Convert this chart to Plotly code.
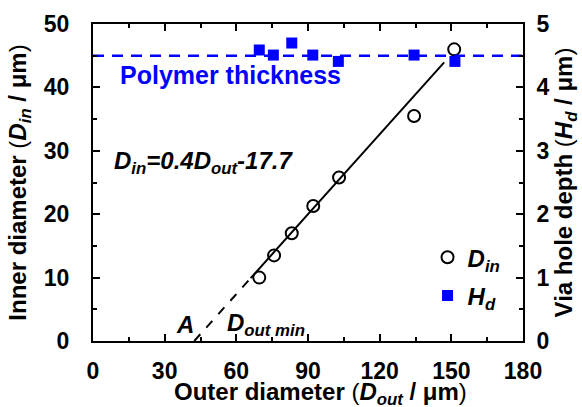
import plotly.graph_objects as go

# Data
d_out = [69.6, 75.8, 83.2, 92.2, 103.0, 134.4, 151.2]
d_in = [10.0, 13.5, 17.0, 21.3, 25.8, 35.5, 46.0]
hd_out = [69.6, 75.5, 83.2, 92.0, 102.7, 134.4, 151.5]
h_d = [4.59, 4.51, 4.70, 4.51, 4.41, 4.51, 4.41]
polymer_thickness = 4.5  # um (right axis)
fit_slope, fit_intercept = 0.42, -17.8
fit_solid_x = [66.0, 147.0]
fit_dash_x = [42.4, 66.0]

FONT = "Liberation Sans"
TXT = 24
TICK = 23

fig = go.Figure()

fig.add_trace(go.Scatter(x=[0, 180], y=[polymer_thickness] * 2, yaxis="y2", mode="lines",
                         line=dict(color="#0000FF", width=2.5, dash="11px,8px"),
                         showlegend=False, hoverinfo="skip"))
fig.add_trace(go.Scatter(x=fit_dash_x, y=[fit_slope * v + fit_intercept for v in fit_dash_x],
                         mode="lines", line=dict(color="black", width=2, dash="9px,9px"),
                         showlegend=False, hoverinfo="skip"))
fig.add_trace(go.Scatter(x=fit_solid_x, y=[fit_slope * v + fit_intercept for v in fit_solid_x],
                         mode="lines", line=dict(color="black", width=2),
                         showlegend=False, hoverinfo="skip"))
fig.add_trace(go.Scatter(x=d_out, y=d_in, mode="markers",
                         name="<b><i>D</i></b><sub><b><i>in</i></b></sub>",
                         marker=dict(symbol="circle-open", size=12, color="black",
                                     line=dict(width=2, color="black")),
                         legendgroup="a"))
fig.add_trace(go.Scatter(x=hd_out, y=h_d, yaxis="y2", mode="markers",
                         name="<b><i>H</i></b><sub><b><i>d</i></b></sub>",
                         marker=dict(symbol="square", size=11, color="#0000FF"),
                         legendgroup="b"))

axis_common = dict(showline=True, linecolor="black", linewidth=2, ticks="inside",
                   ticklen=7, tickwidth=2, tickcolor="black", showgrid=False, zeroline=False,
                   automargin=False,
                   tickfont=dict(family=FONT, size=TICK, color="black", weight="bold"))
minor_common = dict(ticks="inside", ticklen=4, tickwidth=2, tickcolor="black")

fig.update_layout(
    width=582, height=407,
    margin=dict(l=93, r=59, t=24, b=66),
    plot_bgcolor="white", paper_bgcolor="white",
    font=dict(family=FONT, color="black"),
    xaxis=dict(range=[0, 180], dtick=30, mirror="ticks",
               minor=dict(dtick=15, **minor_common),
               ticklabelstandoff=8,
               **axis_common),
    yaxis=dict(range=[0, 50], dtick=10,
               minor=dict(dtick=5, **minor_common),
               title=dict(text="<b>Inner diameter </b>(<b><i>D</i></b><sub><b><i>in</i></b></sub><b> / μm</b>)",
                          font=dict(family=FONT, size=TXT, color="black"), standoff=10),
               ticklabelstandoff=17,
               **axis_common),
    yaxis2=dict(range=[0, 5], dtick=1, overlaying="y", side="right",
                minor=dict(dtick=0.5, **minor_common),
                title=dict(text="<b>Via hole depth </b>(<b><i>H</i></b><sub><b><i>d</i></b></sub><b> / μm</b>)",
                           font=dict(family=FONT, size=TXT, color="black"), standoff=2),
                ticklabelstandoff=7,
                **axis_common),
    legend=dict(x=0.778, y=0.334, xanchor="left", yanchor="top", bgcolor="rgba(0,0,0,0)",
                font=dict(family=FONT, size=TXT, color="black"), tracegroupgap=4,
                traceorder="grouped"),
    annotations=[
        dict(x=0.530, y=-0.166, xref="paper", yref="paper", xanchor="center", yanchor="middle",
             showarrow=False,
             text="<b>Outer diameter </b>(<b><i>D</i></b><sub><b><i>out</i></b></sub><b> / μm</b>)",
             font=dict(family=FONT, size=TXT, color="black")),
        dict(x=10.5, y=42.0, xref="x", yref="y", xanchor="left", yanchor="middle", showarrow=False,
             text="<b>Polymer thickness</b>", font=dict(family=FONT, size=25, color="#0000FF")),
        dict(x=8, y=28.1, xref="x", yref="y", xanchor="left", yanchor="middle", showarrow=False,
             text="<b><i>D</i></b><sub><b><i>in</i></b></sub><b><i>=0.4D</i></b><sub><b><i>out</i></b></sub><b><i>-17.7</i></b>",
             font=dict(family=FONT, size=TXT, color="black")),
        dict(x=38.5, y=2.6, xref="x", yref="y", xanchor="center", yanchor="middle", showarrow=False,
             text="<b><i>A</i></b>", font=dict(family=FONT, size=TXT, color="black")),
        dict(x=55.3, y=2.6, xref="x", yref="y", xanchor="left", yanchor="middle", showarrow=False,
             text="<b><i>D</i></b><sub><b><i>out min</i></b></sub>", font=dict(family=FONT, size=TXT, color="black")),
    ],
)

fig.write_html("out.html", config={"displayModeBar": False},
               post_script="document.body.style.margin='0';")
